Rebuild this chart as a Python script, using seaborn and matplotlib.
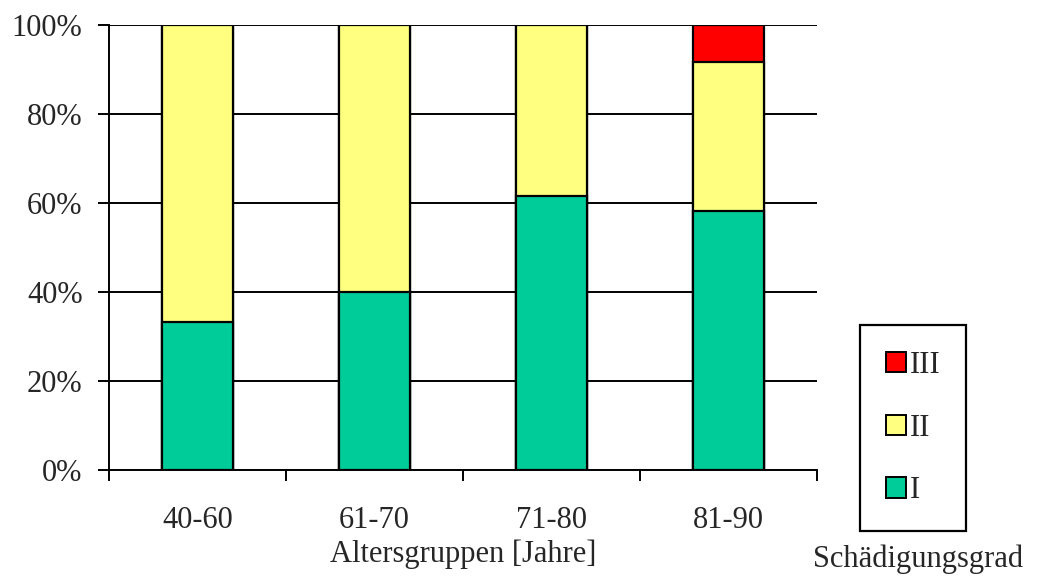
import matplotlib
matplotlib.use("Agg")
import matplotlib.pyplot as plt
from matplotlib.patches import Patch
import seaborn as sns
import pandas as pd

groups = ["40-60", "61-70", "71-80", "81-90"]
grad_I = [33.3, 40.0, 61.5, 58.3]
grad_II = [66.7, 60.0, 38.5, 33.4]
grad_III = [0.0, 0.0, 0.0, 8.3]

colors = {"I": "#00CC99", "II": "#FFFF80", "III": "#FF0000"}

df = pd.DataFrame({"group": groups, "I": grad_I, "II": grad_II, "III": grad_III})
df["I+II"] = df["I"] + df["II"]
df["I+II+III"] = df["I+II"] + df["III"]

sns.set_style("white")
plt.rcParams["font.family"] = ["Liberation Serif", "DejaVu Serif"]

fig = plt.figure(figsize=(10.37, 5.77), dpi=100)
ax = fig.add_axes([0.1051, 0.1854, 0.6827, 0.7712])

# stacked bars, drawn back to front
for col, key in [("I+II+III", "III"), ("I+II", "II"), ("I", "I")]:
    sns.barplot(data=df, x="group", y=col, color=colors[key], width=0.4,
                edgecolor="black", linewidth=1.6, saturation=1, ax=ax, zorder=3)

ax.set_ylim(0, 100)
ax.set_xlim(-0.5, 3.5)
ax.set_yticks([0, 20, 40, 60, 80, 100])
ax.set_yticklabels([f"{v}%" for v in [0, 20, 40, 60, 80, 100]])
ax.yaxis.grid(True, color="black", linewidth=1.4, zorder=0)
ax.set_axisbelow(True)

# category boundary ticks on x
ax.set_xticks([-0.5, 0.5, 1.5, 2.5, 3.5])
ax.set_xticklabels([])
ax.set_xticks([0, 1, 2, 3], minor=True)
ax.set_xticklabels(groups, minor=True)
ax.tick_params(axis="x", which="major", bottom=True, direction="out", length=8, width=1.4, color="black")
ax.tick_params(axis="x", which="minor", bottom=True, length=0, pad=26, labelsize=22)
ax.tick_params(axis="y", left=True, direction="out", length=8, width=1.4, color="black", labelsize=22, pad=11)

for s in ["top", "right"]:
    ax.spines[s].set_visible(False)
for s in ["left", "bottom"]:
    ax.spines[s].set_color("black")
    ax.spines[s].set_linewidth(1.4)

ax.set_xlabel("Altersgruppen [Jahre]", fontsize=22, labelpad=3)
ax.set_ylabel("")

handles = [Patch(facecolor=colors[k], edgecolor="black", linewidth=1.4, label=k)
           for k in ["III", "II", "I"]]
leg = fig.legend(handles=handles, loc="upper left", bbox_to_anchor=(0.8293, 0.4367),
                 frameon=True, fancybox=False, edgecolor="black", framealpha=1,
                 fontsize=22, handlelength=0.65, handleheight=0.65, handletextpad=0.12,
                 labelspacing=1.1, borderpad=0.85, borderaxespad=0)
leg.get_frame().set_linewidth(1.6)
fig.text(0.885, 0.03, "Schädigungsgrad", ha="center", va="center", fontsize=22)

fig.savefig("out.png", dpi=100)
